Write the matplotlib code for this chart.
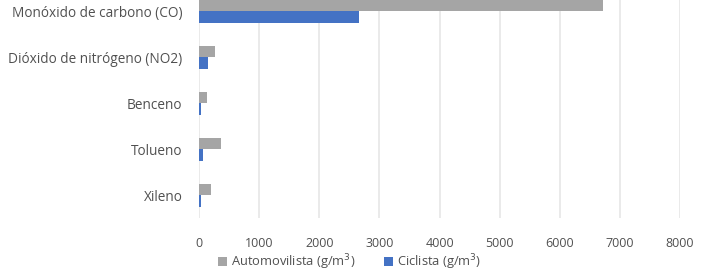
import matplotlib.pyplot as plt
import numpy as np

plt.rcParams['font.family'] = ['Open Sans', 'DejaVu Sans']

contaminantes = ['Monóxido de carbono (CO)', 'Dióxido de nitrógeno (NO2)',
                 'Benceno', 'Tolueno', 'Xileno']
automovilista = [6720, 270, 135, 370, 200]
ciclista = [2660, 150, 25, 70, 35]
xticks = [0, 1000, 2000, 3000, 4000, 5000, 6000, 7000, 8000]

gris = '#A5A5A5'
azul = '#4472C4'
texto = '#505050'

fig = plt.figure(figsize=(7.03, 2.75), dpi=100)
# el borde superior del grafico queda recortado en la imagen original
ax = fig.add_axes([199 / 703, 1 - 218 / 275, 481 / 703, 230 / 275])

y = np.arange(len(contaminantes))
h = 0.25
ax.barh(y - h / 2, automovilista, height=h, color=gris,
        label='Automovilista (g/m$^3$)', zorder=3)
ax.barh(y + h / 2, ciclista, height=h, color=azul,
        label='Ciclista (g/m$^3$)', zorder=3)

ax.set_xlim(0, 8000)
ax.set_ylim(len(contaminantes) - 0.5, -0.5)
ax.set_xticks(xticks)
ax.set_yticks(y)
ax.set_yticklabels(contaminantes)
ax.tick_params(axis='both', length=0, colors=texto)
ax.tick_params(axis='x', pad=14, labelsize=9)
ax.tick_params(axis='y', pad=12, labelsize=9.8)
ax.grid(axis='x', color='#E6E6E6', linewidth=1.2, zorder=0)
for s in ax.spines.values():
    s.set_visible(False)

fig.legend(loc='center', bbox_to_anchor=(0.497, 1 - 262 / 275), ncol=2,
           frameon=False, fontsize=9.3, handlelength=0.7, handleheight=0.7,
           handletextpad=0.3, columnspacing=2.2, labelcolor=texto)

fig.savefig('out.png', dpi=100)
